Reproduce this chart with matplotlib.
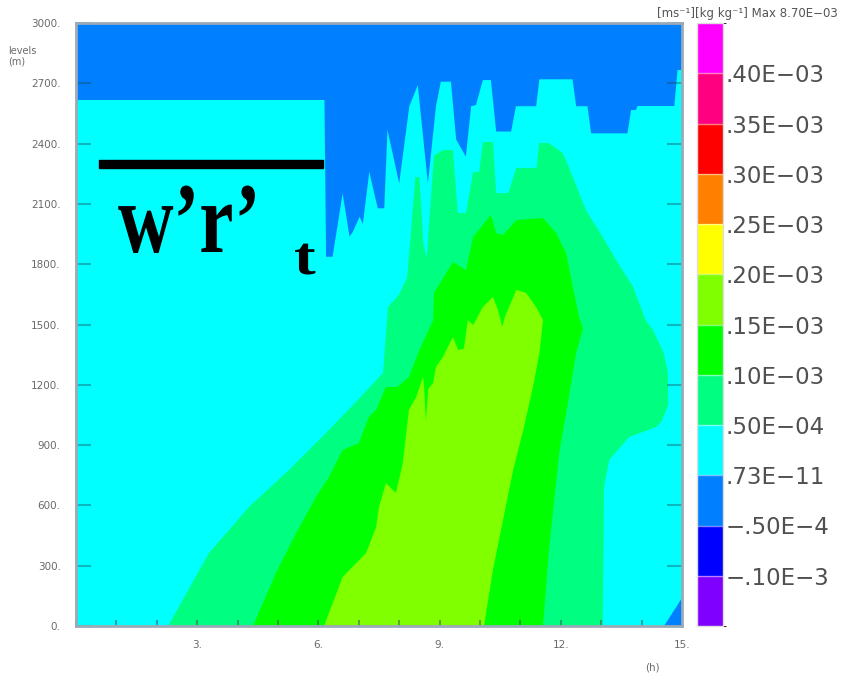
import matplotlib
matplotlib.use("Agg")
import matplotlib.pyplot as plt
from matplotlib.colors import ListedColormap, BoundaryNorm
from matplotlib.colorbar import ColorbarBase
from matplotlib.textpath import TextPath
from matplotlib.patches import PathPatch, Rectangle
from matplotlib.font_manager import FontProperties
from matplotlib.transforms import Affine2D

# shading levels and colours (GrADS rainbow)
levels = [-1e-4, -5e-5, 7.3e-12, 5e-5, 1e-4, 1.5e-4, 2e-4, 2.5e-4, 3e-4, 3.5e-4, 4e-4]
level_labels = ["\u2212.10E\u22123", "\u2212.50E\u22124", ".73E\u221211", ".50E\u221204",
                ".10E\u221203", ".15E\u221203", ".20E\u221203", ".25E\u221203",
                ".30E\u221203", ".35E\u221203", ".40E\u221203"]
colors = ["#8000ff", "#0000ff", "#0080ff", "#00ffff", "#00ff80", "#00ff00",
          "#80ff00", "#ffff00", "#ff8000", "#ff0000", "#ff0080", "#ff00ff"]

# region outlines: time (h), height (m)
# -5e-5 .. 0 band at the top of the domain
neg_top_t = [0, 0, 6.15, 6.19, 6.35, 6.6, 6.77, 6.85, 7.02, 7.1, 7.26, 7.35, 7.47, 7.63,
             7.71, 8.0, 8.25, 8.46, 8.71, 8.91, 9.03, 9.28, 9.41, 9.65, 9.78, 9.9, 10.07,
             10.27, 10.4, 10.77, 10.89, 11.39, 11.47, 12.29, 12.38, 12.66, 12.75, 13.65,
             13.74, 13.86, 13.9, 14.81, 14.89, 15, 15]
neg_top_h = [3000, 2617, 2617, 1837, 1837, 2152, 1937, 1960, 2036, 2000, 2260, 2180, 2078,
             2078, 2468, 2202, 2586, 2691, 2202, 2586, 2708, 2708, 2420, 2335, 2586, 2592,
             2716, 2716, 2460, 2460, 2586, 2586, 2720, 2720, 2586, 2586, 2451, 2451, 2567,
             2567, 2587, 2587, 2766, 2766, 3000]
# -5e-5 .. 0 corner at the bottom right
neg_bot_t = [14.55, 15, 15]
neg_bot_h = [0, 0, 140]

# 5e-5 .. 1e-4
sg_t = [2.28, 3.29, 4.28, 5.27, 6.26, 7.0, 7.6, 7.72, 8.0, 8.2, 8.4, 8.5, 8.6, 8.68, 8.86,
        9.08, 9.33, 9.45, 9.65, 9.83, 9.98, 10.07, 10.32, 10.4, 10.7, 10.9, 11.4, 11.46,
        11.7, 12.05, 12.3, 12.62, 13.04, 13.37, 13.79, 14.1, 14.28, 14.55, 14.65, 14.66,
        14.5, 14.36, 13.69, 13.2, 13.07, 13.04]
sg_h = [0, 363, 592, 776, 975, 1130, 1259, 1587, 1650, 1736, 2234, 2234, 1900, 1831, 2340,
        2368, 2368, 2055, 2055, 2259, 2259, 2408, 2408, 2154, 2154, 2279, 2279, 2403, 2403,
        2353, 2234, 2070, 1935, 1821, 1687, 1522, 1473, 1358, 1260, 1100, 1020, 990, 940,
        826, 692, 0]

# 1e-4 .. 1.5e-4
gr_t = [4.38, 4.95, 5.45, 5.94, 6.26, 6.6, 7.0, 7.25, 7.43, 7.67, 7.95, 8.24, 8.5, 8.84,
        8.86, 9.33, 9.65, 9.83, 10.27, 10.4, 10.57, 10.9, 11.56, 11.88, 12.13, 12.3, 12.45,
        12.55, 12.38, 12.2, 11.96, 11.7, 11.56]
gr_h = [0, 264, 463, 642, 741, 876, 910, 1040, 1075, 1189, 1189, 1239, 1373, 1522, 1657,
        1811, 1771, 1935, 2045, 1955, 1945, 2020, 2030, 1955, 1856, 1687, 1540, 1480, 1358,
        1139, 861, 363, 0]

# 1.5e-4 .. 2e-4
ch_t = [6.14, 6.6, 7.18, 7.43, 7.5, 7.67, 7.92, 8.09, 8.24, 8.42, 8.59, 8.62, 8.66, 8.72,
        8.84, 8.91, 9.08, 9.33, 9.46, 9.6, 9.7, 9.83, 10.07, 10.32, 10.45, 10.55, 10.62,
        10.9, 11.14, 11.39, 11.56, 11.47, 11.31, 11.07, 10.82, 10.57, 10.32, 10.15, 10.1]
ch_h = [0, 244, 363, 492, 592, 711, 662, 811, 1075, 1139, 1239, 1180, 1020, 1180, 1209,
        1289, 1338, 1438, 1373, 1380, 1522, 1497, 1587, 1637, 1570, 1490, 1540, 1672, 1657,
        1587, 1522, 1358, 1189, 975, 776, 527, 279, 65, 0]

hour_ticks = list(range(0, 16))
hour_labels = ["%d." % h if h in (3, 6, 9, 12, 15) else "" for h in hour_ticks]
height_ticks = list(range(0, 3001, 300))
height_labels = ["%d." % h for h in height_ticks]

W, H = 849, 679
fig = plt.figure(figsize=(W / 100, H / 100), dpi=100)
ax = fig.add_axes([76 / W, 53 / H, 606 / W, 603 / H])
ax.set_facecolor(colors[3])

ax.fill(neg_top_t, neg_top_h, color=colors[2], lw=0)
ax.fill(neg_bot_t, neg_bot_h, color=colors[2], lw=0)
ax.fill(sg_t, sg_h, color=colors[4], lw=0)
ax.fill(gr_t, gr_h, color=colors[5], lw=0)
ax.fill(ch_t, ch_h, color=colors[6], lw=0)

ax.set_xlim(0, 15)
ax.set_ylim(0, 3000)
ax.set_xticks(hour_ticks)
ax.set_xticklabels(hour_labels)
ax.set_yticks(height_ticks)
ax.set_yticklabels(height_labels)
ax.tick_params(axis="y", direction="in", length=11, width=1.5, left=True, right=True,
               color=(0.1, 0.3, 0.35, 0.4), labelsize=7.5, labelcolor="#6a6a6a", pad=11)
ax.tick_params(axis="x", direction="in", length=4, width=1.5,
               color=(0.25, 0.3, 0.3, 0.5), labelsize=7.5, labelcolor="#6a6a6a", pad=10)
for s in ax.spines.values():
    s.set_color("#9aaab8")
    s.set_linewidth(2)

# colour bar with equal boxes
cax = fig.add_axes([697 / W, 53 / H, 26 / W, 603 / H])
bounds = [-1.5e-4] + levels + [4.5e-4]
cb = ColorbarBase(cax, cmap=ListedColormap(colors), norm=BoundaryNorm(bounds, len(colors)),
                  boundaries=bounds, spacing="uniform", ticks=levels, drawedges=True)
cb.ax.set_yticklabels(level_labels)
cb.ax.tick_params(length=0, pad=2, labelsize=16.5, labelcolor="#505050")
cb.outline.set_edgecolor("#dddddd")
cb.outline.set_linewidth(1)
cb.dividers.set_color((1, 1, 1, 0.5))
cb.dividers.set_linewidth(1)

# annotation texts
fig.text(657 / W, 1 - 14 / H, "[ms\u207b\u00b9][kg kg\u207b\u00b9] Max 8.70E\u221203",
         fontsize=8.5, color="#555555", va="center", ha="left")
fig.text(8 / W, 1 - 46 / H, "levels\n(m)", fontsize=7, color="#6a6a6a", va="top",
         ha="left", linespacing=1.1)
fig.text(652 / W, 1 - 667 / H, "(h)", fontsize=7.5, color="#6a6a6a", ha="center",
         va="center")

# w'r'_t overlay with overbar
fp = FontProperties(family="Liberation Serif", weight="bold")
main = TextPath((0, 0), "w\u2019r\u2019", size=1, prop=fp)
sub = TextPath((0, 0), "t", size=1, prop=fp)
fig.add_artist(PathPatch(main, fc="black", ec="none",
                         transform=Affine2D().scale(77 / W, 100 / H)
                         .translate(118 / W, (H - 252) / H) + fig.transFigure))
fig.add_artist(PathPatch(sub, fc="black", ec="none",
                         transform=Affine2D().scale(65 / W, 54 / H)
                         .translate(294 / W, (H - 274) / H) + fig.transFigure))
fig.add_artist(Rectangle((99 / W, (H - 168) / H), 224 / W, 8 / H, color="black",
                         transform=fig.transFigure))

fig.savefig("out.png", dpi=100)
